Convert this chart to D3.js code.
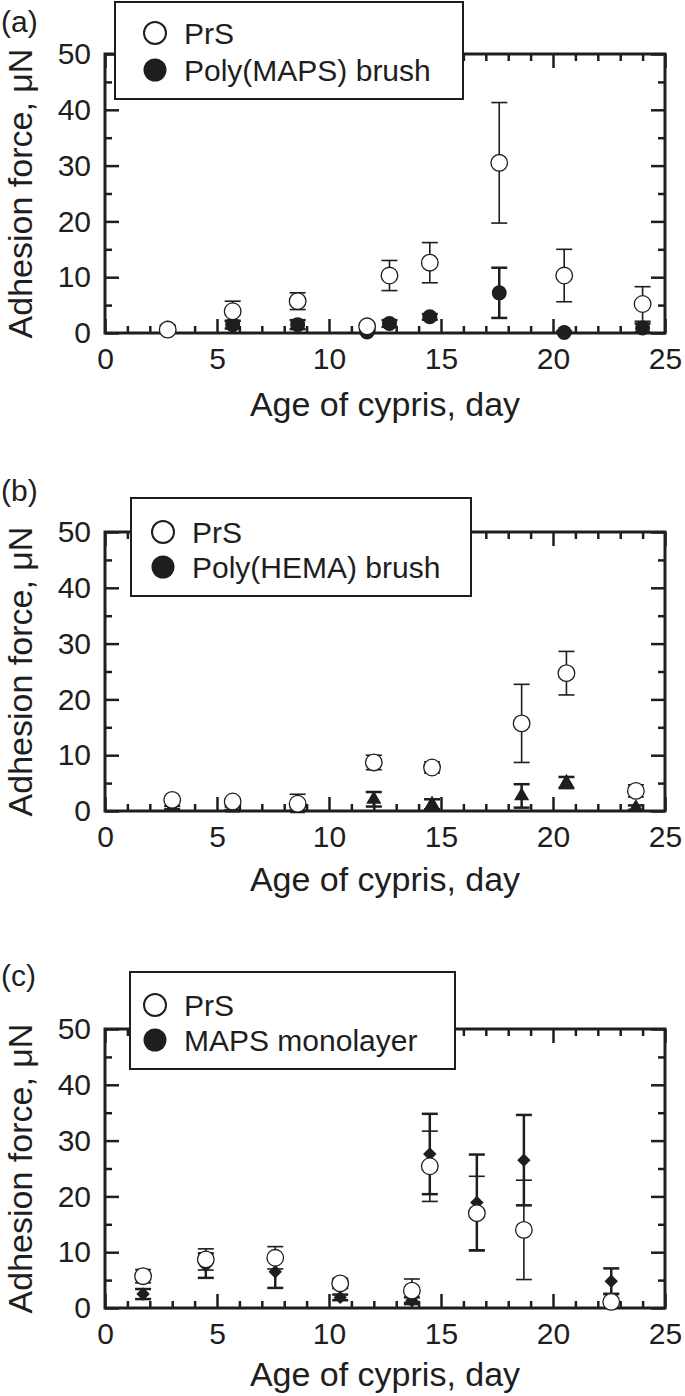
<!DOCTYPE html>
<html>
<head>
<meta charset="utf-8">
<script src="https://cdn.jsdelivr.net/npm/d3@7"></script>
<style>
  html, body { margin: 0; padding: 0; background: #fff; }
  svg { display: block; }
  text { font-family: "Liberation Sans", Arial, sans-serif; fill: #1e1e1e; }
</style>
</head>
<body>
<svg id="chart" width="685" height="1396"></svg>
<script>
// ---------- DATA ----------
const xTicksMajor = [0, 5, 10, 15, 20, 25];
const yTicksMajor = [0, 10, 20, 30, 40, 50];
const xTitle = "Age of cypris, day";
const yTitle = "Adhesion force, \u03bcN";

// Panel (a)
const aDays = [2.8, 5.7, 8.6, 11.7, 12.7, 14.5, 17.6, 20.5, 24.0];
const aPrS = [0.6, 3.9, 5.7, 1.2, 10.3, 12.6, 30.5, 10.3, 5.2];
const aPrSSd = [0.3, 1.8, 1.5, 0.5, 2.7, 3.6, 10.8, 4.7, 3.1];
const aBrush = [0.9, 1.5, 1.5, 0.2, 1.7, 2.9, 7.2, 0.1, 0.9];
const aBrushSd = [0.4, 0.7, 0.8, 0.3, 0.6, 0.5, 4.5, 0.2, 0.8];
const aLegend = ["PrS", "Poly(MAPS) brush"];

// Panel (b)
const bDays = [3.0, 5.7, 8.6, 12.0, 14.6, 18.6, 20.6, 23.7];
const bPrS = [2.0, 1.7, 1.3, 8.7, 7.8, 15.7, 24.7, 3.6];
const bPrSSd = [0.4, 0.4, 1.7, 1.3, 1.0, 7.0, 3.9, 1.1];
const bBrush = [0.6, 0.5, 0.4, 2.1, 1.2, 2.7, 5.1, 0.6];
const bBrushSd = [0.3, 0.3, 0.3, 1.3, 0.9, 2.1, 1.0, 0.4];
const bLegend = ["PrS", "Poly(HEMA) brush"];

// Panel (c)
const cDays = [1.7, 4.5, 7.6, 10.5, 13.7, 14.5, 16.6, 18.7, 22.6];
const cPrS = [5.7, 8.7, 9.0, 4.4, 3.1, 25.4, 17.0, 14.0, 1.1];
const cPrSSd = [1.2, 1.9, 2.0, 0.9, 2.1, 6.3, 6.6, 8.9, 1.5];
const cMono = [2.5, 7.6, 6.5, 1.9, 1.3, 27.6, 18.9, 26.5, 4.8];
const cMonoSd = [0.9, 2.2, 2.9, 0.5, 0.6, 7.2, 8.6, 8.1, 2.3];
const cLegend = ["PrS", "MAPS monolayer"];

// ---------- LAYOUT ----------
const panels = [
  { label: "(a)", labelY: 32, top: 54, bottom: 333, titleOff: 83,
    legend: { x: 115, y: 2, w: 348, h: 97, sx: 155, tx: 184, r1: 31, r2: 68 },
    days: aDays, open: aPrS, openSd: aPrSSd, fill: aBrush, fillSd: aBrushSd,
    shape: "circle", names: aLegend },
  { label: "(b)", labelY: 501, top: 532, bottom: 811, titleOff: 80,
    legend: { x: 131, y: 498, w: 340, h: 98, sx: 163, tx: 192, r1: 34, r2: 69 },
    days: bDays, open: bPrS, openSd: bPrSSd, fill: bBrush, fillSd: bBrushSd,
    shape: "triangle", names: bLegend },
  { label: "(c)", labelY: 986, top: 1029, bottom: 1308, titleOff: 78,
    legend: { x: 130, y: 972, w: 325, h: 97, sx: 155, tx: 184, r1: 33, r2: 68 },
    days: cDays, open: cPrS, openSd: cPrSSd, fill: cMono, fillSd: cMonoSd,
    shape: "diamond", names: cLegend }
];
const left = 105, right = 665;
const ink = "#1e1e1e";

const svg = d3.select("#chart");

panels.forEach(p => {
  const g = svg.append("g");
  const x = d3.scaleLinear().domain([0, 25]).range([left, right]);
  const y = d3.scaleLinear().domain([0, 50]).range([p.bottom, p.top]);

  const xMinor = d3.range(0, 26, 1).filter(v => v % 5 !== 0);
  const yMinor = d3.range(5, 50, 10);

  function styleAxis(sel) {
    sel.select(".domain").remove();
    sel.selectAll("line").attr("stroke", ink).attr("stroke-width", 2.5);
    sel.selectAll("text").style("font-size", "30px").attr("fill", ink)
      .style("font-family", '"Liberation Sans", Arial, sans-serif');
  }

  // bottom
  g.append("g").attr("transform", `translate(0,${p.bottom})`)
    .call(d3.axisBottom(x).tickValues(xTicksMajor).tickSize(-14).tickPadding(15).tickFormat(d3.format("d")))
    .call(styleAxis);
  g.append("g").attr("transform", `translate(0,${p.bottom})`)
    .call(d3.axisBottom(x).tickValues(xMinor).tickSize(-7).tickFormat(""))
    .call(styleAxis);
  // top
  g.append("g").attr("transform", `translate(0,${p.top})`)
    .call(d3.axisTop(x).tickValues(xTicksMajor).tickSize(-14).tickFormat(""))
    .call(styleAxis);
  g.append("g").attr("transform", `translate(0,${p.top})`)
    .call(d3.axisTop(x).tickValues(xMinor).tickSize(-7).tickFormat(""))
    .call(styleAxis);
  // left
  g.append("g").attr("transform", `translate(${left},0)`)
    .call(d3.axisLeft(y).tickValues(yTicksMajor).tickSize(-14).tickPadding(14).tickFormat(d3.format("d")))
    .call(styleAxis);
  g.append("g").attr("transform", `translate(${left},0)`)
    .call(d3.axisLeft(y).tickValues(yMinor).tickSize(-7).tickFormat(""))
    .call(styleAxis);
  // right
  g.append("g").attr("transform", `translate(${right},0)`)
    .call(d3.axisRight(y).tickValues(yTicksMajor).tickSize(-14).tickFormat(""))
    .call(styleAxis);
  g.append("g").attr("transform", `translate(${right},0)`)
    .call(d3.axisRight(y).tickValues(yMinor).tickSize(-7).tickFormat(""))
    .call(styleAxis);

  // frame
  g.append("rect")
    .attr("x", left).attr("y", p.top)
    .attr("width", right - left).attr("height", p.bottom - p.top)
    .attr("fill", "none").attr("stroke", ink).attr("stroke-width", 3);

  // error bars helper
  function errorBars(vals, sds, width) {
    const eg = g.append("g").attr("stroke", ink).attr("stroke-width", width).attr("fill", "none");
    vals.forEach((v, i) => {
      const cx = x(p.days[i]);
      const hi = y(v + sds[i]), lo = y(Math.max(0, v - sds[i]));
      eg.append("line").attr("x1", cx).attr("x2", cx).attr("y1", hi).attr("y2", lo);
      eg.append("line").attr("x1", cx - 8).attr("x2", cx + 8).attr("y1", hi).attr("y2", hi);
      eg.append("line").attr("x1", cx - 8).attr("x2", cx + 8).attr("y1", lo).attr("y2", lo);
    });
  }

  // filled series first
  errorBars(p.fill, p.fillSd, 2.5);
  const fg = g.append("g");
  p.fill.forEach((v, i) => {
    const cx = x(p.days[i]), cy = y(v);
    if (p.shape === "circle") {
      fg.append("circle").attr("cx", cx).attr("cy", cy).attr("r", 7.5).attr("fill", ink);
    } else if (p.shape === "triangle") {
      fg.append("path").attr("d", d3.symbol().type(d3.symbolTriangle).size(100)())
        .attr("transform", `translate(${cx},${cy})`).attr("fill", ink);
    } else {
      fg.append("path").attr("d", d3.symbol().type(d3.symbolSquare).size(90)())
        .attr("transform", `translate(${cx},${cy}) rotate(45)`).attr("fill", ink);
    }
  });

  // open series
  errorBars(p.open, p.openSd, 1.6);
  const og = g.append("g");
  p.open.forEach((v, i) => {
    og.append("circle").attr("cx", x(p.days[i])).attr("cy", y(v)).attr("r", 8.3)
      .attr("fill", "#fff").attr("stroke", ink).attr("stroke-width", 1.3);
  });

  // legend
  const L = p.legend;
  const lg = g.append("g");
  lg.append("rect").attr("x", L.x).attr("y", L.y).attr("width", L.w).attr("height", L.h)
    .attr("fill", "#fff").attr("stroke", ink).attr("stroke-width", 2);
  lg.append("circle").attr("cx", L.sx).attr("cy", L.y + L.r1).attr("r", 11)
    .attr("fill", "#fff").attr("stroke", ink).attr("stroke-width", 2);
  lg.append("circle").attr("cx", L.sx).attr("cy", L.y + L.r2).attr("r", 11.5)
    .attr("fill", ink);
  lg.append("text").attr("x", L.tx).attr("y", L.y + L.r1 + 11).style("font-size", "30px").text(p.names[0]);
  lg.append("text").attr("x", L.tx).attr("y", L.y + L.r2 + 11).style("font-size", "30px").text(p.names[1]);

  // axis titles
  g.append("text").attr("x", (left + right) / 2).attr("y", p.bottom + p.titleOff)
    .attr("text-anchor", "middle").style("font-size", "34px").text(xTitle);
  g.append("text")
    .attr("transform", `translate(32,${(p.top + p.bottom) / 2}) rotate(-90)`)
    .attr("text-anchor", "middle").style("font-size", "34px").text(yTitle);

  // panel label
  g.append("text").attr("x", 1).attr("y", p.labelY).style("font-size", "30px").text(p.label);
});
</script>
</body>
</html>
